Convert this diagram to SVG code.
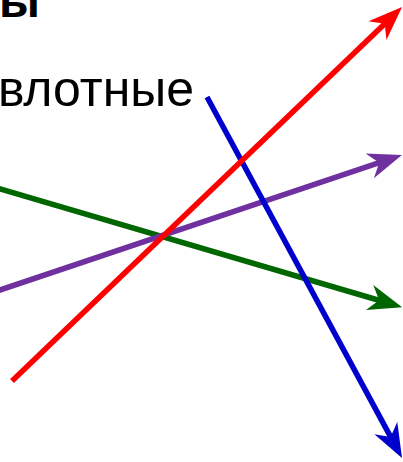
<svg xmlns="http://www.w3.org/2000/svg" width="403" height="462" viewBox="0 0 403 462">
  <style>
    .t { font-family: "Liberation Sans", Arial, sans-serif; fill: #000; }
    .ln { stroke-width: 5.5; fill: none; stroke-linecap: butt; }
  </style>
  <defs>
    <marker id="ar-red" viewBox="-36 -15 38 30" refX="-20" refY="0" markerWidth="38" markerHeight="30" markerUnits="userSpaceOnUse" orient="auto">
      <path d="M0,0 L-34,-13 L-24,0 L-34,13 Z" fill="#ff0000"/>
    </marker>
    <marker id="ar-blue" viewBox="-36 -15 38 30" refX="-20" refY="0" markerWidth="38" markerHeight="30" markerUnits="userSpaceOnUse" orient="auto">
      <path d="M0,0 L-34,-13 L-24,0 L-34,13 Z" fill="#0000cc"/>
    </marker>
    <marker id="ar-purple" viewBox="-36 -15 38 30" refX="-20" refY="0" markerWidth="38" markerHeight="30" markerUnits="userSpaceOnUse" orient="auto">
      <path d="M0,0 L-34,-13 L-24,0 L-34,13 Z" fill="#7030a0"/>
    </marker>
    <marker id="ar-green" viewBox="-36 -15 38 30" refX="-20" refY="0" markerWidth="38" markerHeight="30" markerUnits="userSpaceOnUse" orient="auto">
      <path d="M0,0 L-34,-13 L-24,0 L-34,13 Z" fill="#006600"/>
    </marker>
  </defs>
  <g id="title">
    <text class="t" x="40" y="17" font-size="48" font-weight="bold" text-anchor="end">ы</text>
  </g>
  <g id="label">
    <text class="t" x="194" y="106" font-size="50" text-anchor="end">влотные</text>
  </g>
  <g id="connectors">
    <line class="ln" x1="-5" y1="187.5" x2="383" y2="301.5" stroke="#006600" marker-end="url(#ar-green)"/>
    <line class="ln" x1="-5" y1="291.7" x2="383" y2="161.4" stroke="#7030a0" marker-end="url(#ar-purple)"/>
    <line class="ln" x1="207" y1="97" x2="392.5" y2="440.4" stroke="#0000cc" marker-end="url(#ar-blue)"/>
    <line class="ln" x1="12" y1="381" x2="387.6" y2="20.9" stroke="#ff0000" marker-end="url(#ar-red)"/>
  </g>
</svg>
